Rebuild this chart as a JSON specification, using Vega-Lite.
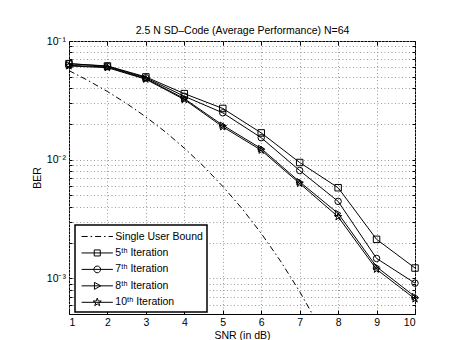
{
  "$schema": "https://vega.github.io/schema/vega-lite/v6.json",
  "autosize": "none",
  "width": 346,
  "height": 273,
  "padding": {"left": 69, "top": 41, "right": 52, "bottom": 26},
  "background": "white",
  "config": {
    "view": {"stroke": "black", "strokeWidth": 1},
    "legend": {"strokeWidth": 1.5},
    "axis": {
      "labelFont": "Liberation Sans",
      "titleFont": "Liberation Sans",
      "labelFontSize": 10.5,
      "titleFontSize": 10.5,
      "titleFontWeight": "normal",
      "labelColor": "black",
      "titleColor": "black",
      "tickColor": "black",
      "domain": false,
      "labelOverlap": false,
      "labelSeparation": -20,
      "gridColor": "#9a9a9a",
      "gridDash": [1, 2.5],
      "gridWidth": 1
    }
  },
  "resolve": {
    "axis": {"x": "independent", "y": "independent"},
    "scale": {"shape": "independent"}
  },
  "datasets": {
    "bound": [
      {"snr": 1.0, "ber": 0.0563, "series": "Single User Bound"},
      {"snr": 1.5, "ber": 0.0464, "series": "Single User Bound"},
      {"snr": 2.0, "ber": 0.0375, "series": "Single User Bound"},
      {"snr": 2.5, "ber": 0.0297, "series": "Single User Bound"},
      {"snr": 3.0, "ber": 0.0229, "series": "Single User Bound"},
      {"snr": 3.5, "ber": 0.0172, "series": "Single User Bound"},
      {"snr": 4.0, "ber": 0.0125, "series": "Single User Bound"},
      {"snr": 4.5, "ber": 0.0088, "series": "Single User Bound"},
      {"snr": 5.0, "ber": 0.00595, "series": "Single User Bound"},
      {"snr": 5.5, "ber": 0.00387, "series": "Single User Bound"},
      {"snr": 6.0, "ber": 0.00239, "series": "Single User Bound"},
      {"snr": 6.5, "ber": 0.0014, "series": "Single User Bound"},
      {"snr": 7.0, "ber": 0.000773, "series": "Single User Bound"},
      {"snr": 7.5, "ber": 0.000398, "series": "Single User Bound"},
      {"snr": 8.0, "ber": 0.000191, "series": "Single User Bound"}
    ],
    "iterations": [
      {"snr": 1, "ber": 0.0644, "series": "5ᵗʰ Iteration"},
      {"snr": 2, "ber": 0.0616, "series": "5ᵗʰ Iteration"},
      {"snr": 3, "ber": 0.0498, "series": "5ᵗʰ Iteration"},
      {"snr": 4, "ber": 0.036, "series": "5ᵗʰ Iteration"},
      {"snr": 5, "ber": 0.027, "series": "5ᵗʰ Iteration"},
      {"snr": 6, "ber": 0.0168, "series": "5ᵗʰ Iteration"},
      {"snr": 7, "ber": 0.00946, "series": "5ᵗʰ Iteration"},
      {"snr": 8, "ber": 0.0058, "series": "5ᵗʰ Iteration"},
      {"snr": 9, "ber": 0.00213, "series": "5ᵗʰ Iteration"},
      {"snr": 10, "ber": 0.00122, "series": "5ᵗʰ Iteration"},
      {"snr": 1, "ber": 0.0644, "series": "7ᵗʰ Iteration"},
      {"snr": 2, "ber": 0.0612, "series": "7ᵗʰ Iteration"},
      {"snr": 3, "ber": 0.049, "series": "7ᵗʰ Iteration"},
      {"snr": 4, "ber": 0.0342, "series": "7ᵗʰ Iteration"},
      {"snr": 5, "ber": 0.0248, "series": "7ᵗʰ Iteration"},
      {"snr": 6, "ber": 0.0153, "series": "7ᵗʰ Iteration"},
      {"snr": 7, "ber": 0.0081, "series": "7ᵗʰ Iteration"},
      {"snr": 8, "ber": 0.00445, "series": "7ᵗʰ Iteration"},
      {"snr": 9, "ber": 0.00147, "series": "7ᵗʰ Iteration"},
      {"snr": 10, "ber": 0.00091, "series": "7ᵗʰ Iteration"},
      {"snr": 1, "ber": 0.0624, "series": "8ᵗʰ Iteration"},
      {"snr": 2, "ber": 0.0604, "series": "8ᵗʰ Iteration"},
      {"snr": 3, "ber": 0.0482, "series": "8ᵗʰ Iteration"},
      {"snr": 4, "ber": 0.0327, "series": "8ᵗʰ Iteration"},
      {"snr": 5, "ber": 0.0195, "series": "8ᵗʰ Iteration"},
      {"snr": 6, "ber": 0.0124, "series": "8ᵗʰ Iteration"},
      {"snr": 7, "ber": 0.0065, "series": "8ᵗʰ Iteration"},
      {"snr": 8, "ber": 0.00352, "series": "8ᵗʰ Iteration"},
      {"snr": 9, "ber": 0.00125, "series": "8ᵗʰ Iteration"},
      {"snr": 10, "ber": 0.0007, "series": "8ᵗʰ Iteration"},
      {"snr": 1, "ber": 0.0616, "series": "10ᵗʰ Iteration"},
      {"snr": 2, "ber": 0.0596, "series": "10ᵗʰ Iteration"},
      {"snr": 3, "ber": 0.0476, "series": "10ᵗʰ Iteration"},
      {"snr": 4, "ber": 0.0321, "series": "10ᵗʰ Iteration"},
      {"snr": 5, "ber": 0.0189, "series": "10ᵗʰ Iteration"},
      {"snr": 6, "ber": 0.012, "series": "10ᵗʰ Iteration"},
      {"snr": 7, "ber": 0.0063, "series": "10ᵗʰ Iteration"},
      {"snr": 8, "ber": 0.0033, "series": "10ᵗʰ Iteration"},
      {"snr": 9, "ber": 0.00119, "series": "10ᵗʰ Iteration"},
      {"snr": 10, "ber": 0.00067, "series": "10ᵗʰ Iteration"}
    ]
  },
  "layer": [
    {
      "data": {"name": "bound"},
      "mark": {"type": "line", "color": "black", "strokeWidth": 1, "strokeDash": [6, 3, 1.5, 3], "clip": true},
      "encoding": {
        "x": {
          "field": "snr", "type": "quantitative",
          "scale": {"domain": [1, 10], "nice": false, "zero": false},
          "axis": {
            "title": "SNR (in dB)",
            "orient": "bottom",
            "values": [1, 2, 3, 4, 5, 6, 7, 8, 9, 10],
            "labelOverlap": false,
            "grid": true,
            "tickSize": -4,
            "labelPadding": 7.5,
            "titlePadding": 2
          }
        },
        "y": {
          "field": "ber", "type": "quantitative",
          "scale": {"type": "log", "domain": [0.0005, 0.1], "nice": false},
          "axis": {
            "title": "BER",
            "orient": "left",
            "values": [0.0006, 0.0007, 0.0008, 0.0009, 0.001, 0.002, 0.003, 0.004, 0.005, 0.006, 0.007, 0.008, 0.009, 0.01, 0.02, 0.03, 0.04, 0.05, 0.06, 0.07, 0.08, 0.09, 0.1],
            "labelExpr": "datum.value == 0.1 ? '10⁻¹' : datum.value == 0.01 ? '10⁻²' : datum.value == 0.001 ? '10⁻³' : ''",
            "labelOverlap": false,
            "grid": true,
            "tickSize": -3,
            "labelPadding": 6.5,
            "titlePadding": 4
          }
        }
      }
    },
    {
      "data": {"name": "iterations"},
      "mark": {"type": "line", "color": "black", "strokeWidth": 1, "clip": true},
      "encoding": {
        "x": {"field": "snr", "type": "quantitative", "axis": null},
        "y": {"field": "ber", "type": "quantitative", "axis": null},
        "detail": {"field": "series", "type": "nominal"}
      }
    },
    {
      "data": {"name": "iterations"},
      "mark": {"type": "point", "filled": false, "stroke": "black", "strokeWidth": 1, "size": 42, "opacity": 1},
      "encoding": {
        "x": {
          "field": "snr", "type": "quantitative",
          "axis": {
            "orient": "top",
            "title": "2.5 N SD–Code (Average Performance) N=64",
            "titleY": -8,
            "titleX": 173,
            "titleAlign": "center",
            "titleAnchor": "middle",
            "titleBaseline": "alphabetic",
            "labels": false,
            "grid": false,
            "tickSize": -4,
            "values": [1, 2, 3, 4, 5, 6, 7, 8, 9, 10]
          }
        },
        "y": {
          "field": "ber", "type": "quantitative",
          "axis": {"orient": "right", "title": null, "labels": false, "grid": false, "tickSize": -3, "values": [0.0006, 0.0007, 0.0008, 0.0009, 0.001, 0.002, 0.003, 0.004, 0.005, 0.006, 0.007, 0.008, 0.009, 0.01, 0.02, 0.03, 0.04, 0.05, 0.06, 0.07, 0.08, 0.09, 0.1]}
        },
        "shape": {
          "field": "series", "type": "nominal",
          "scale": {
            "domain": ["5ᵗʰ Iteration", "7ᵗʰ Iteration", "8ᵗʰ Iteration", "10ᵗʰ Iteration"],
            "range": ["square", "circle", "triangle-right", "M0,-1.2L0.2704,-0.3721L1.1413,-0.3708L0.4375,0.1421L0.7053,0.9708L0,0.46L-0.7053,0.9708L-0.4375,0.1421L-1.1413,-0.3708L-0.2704,-0.3721Z"]
          },
          "legend": null
        }
      }
    },
    {
      "description": "Legend key: each series as a line glyph with its marker; the points themselves are not drawn.",
      "data": {"name": "iterations"},
      "mark": {"type": "point", "filled": false, "stroke": "black", "strokeWidth": 1, "size": 196, "opacity": 0},
      "encoding": {
        "x": {"field": "snr", "type": "quantitative", "axis": null},
        "y": {"field": "ber", "type": "quantitative", "axis": null},
        "shape": {
          "field": "series", "type": "nominal",
          "scale": {
            "domain": ["Single User Bound", "5ᵗʰ Iteration", "7ᵗʰ Iteration", "8ᵗʰ Iteration", "10ᵗʰ Iteration"],
            "range": [
              "M-0.7,0H0.157M0.586,0H0.8M1.229,0H2.086M2.514,0H2.729M3.157,0H3.77",
              "M-0.7,0H3.77M1.105,-0.43H1.965V0.43H1.105Z",
              "M-0.7,0H3.77M2.015,0A0.48,0.48 0 1,1 1.055,0A0.48,0.48 0 1,1 2.015,0Z",
              "M-0.7,0H3.77M1.135,-0.5L2.035,0L1.135,0.5Z",
              "M-0.7,0H3.77M1.535,-0.6L1.6761,-0.1942L2.1056,-0.1854L1.7633,0.0742L1.8877,0.4854L1.535,0.24L1.1823,0.4854L1.3067,0.0742L0.9644,-0.1854L1.3939,-0.1942Z"
            ]
          },
          "legend": {
            "title": null,
            "orient": "none",
            "legendX": 6,
            "legendY": 184,
            "padding": 4,
            "fillColor": "white",
            "strokeColor": "black",
            "labelFont": "Liberation Sans",
            "labelFontSize": 10.5,
            "labelColor": "black",
            "labelOffset": 21.3,
            "symbolSize": 196,
            "symbolOpacity": 1,
            "symbolStrokeColor": "black",
            "symbolFillColor": "transparent",
            "symbolStrokeWidth": 1,
            "rowPadding": 3.45
          }
        }
      }
    }
  ]
}
